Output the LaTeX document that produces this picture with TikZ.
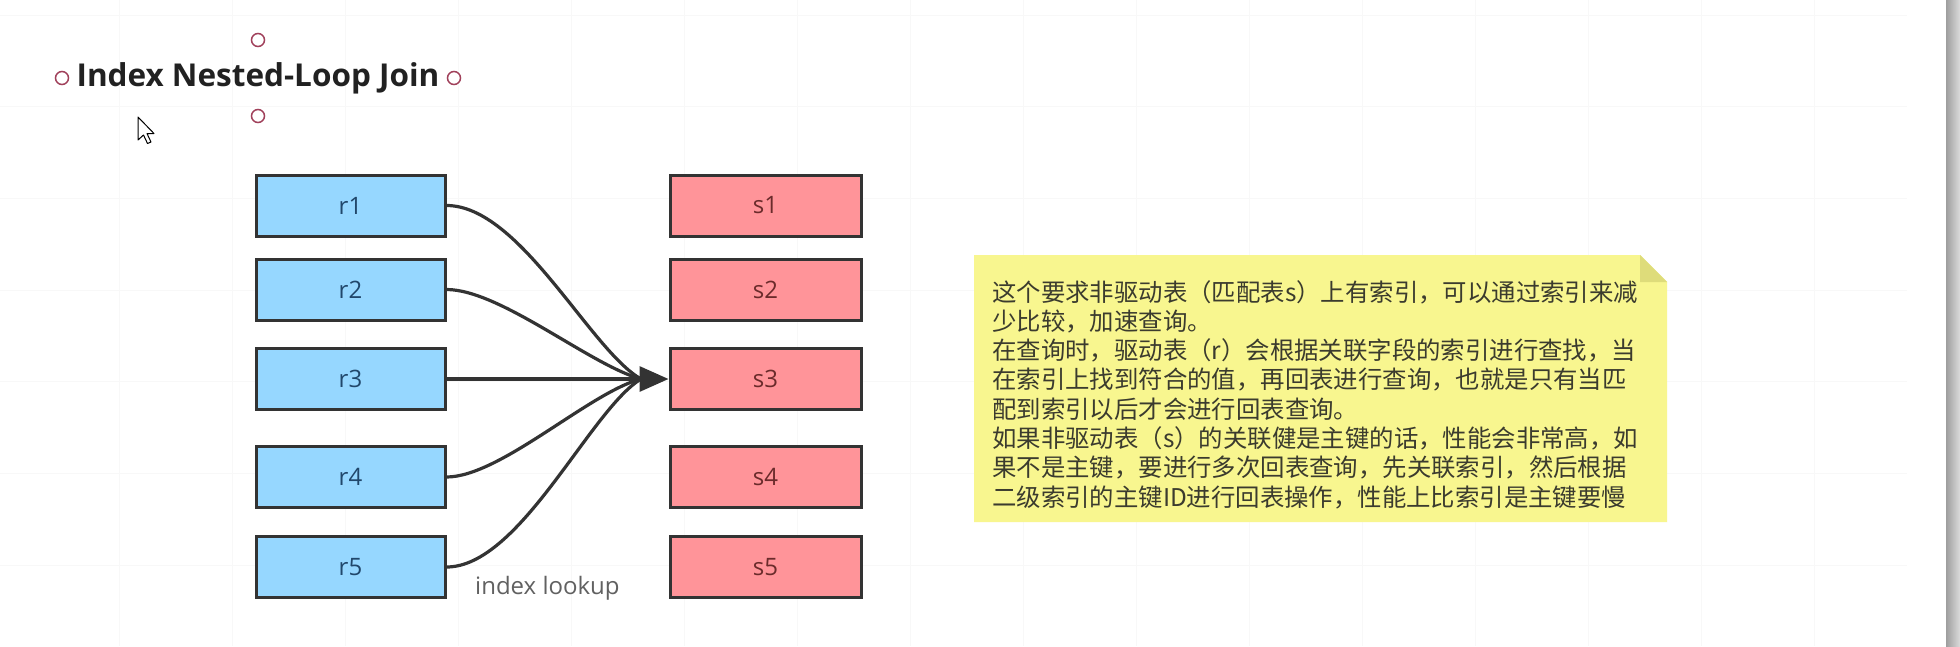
\documentclass[tikz,border=0pt]{standalone}
\usepackage{fontspec}
\setmainfont{Open Sans}
\newfontfamily\cjk{Noto Sans CJK SC}
\usetikzlibrary{arrows.meta}
\definecolor{rfill}{HTML}{96D7FF}
\definecolor{sfill}{HTML}{FF9499}
\definecolor{rtext}{HTML}{21476B}
\definecolor{stext}{HTML}{6B2B2B}
\definecolor{edge}{HTML}{333333}
\definecolor{gridc}{HTML}{F8F8F8}
\definecolor{notefill}{HTML}{F8F68F}
\definecolor{notefold}{HTML}{DEDC7A}
\definecolor{notetext}{HTML}{3B3B2E}
\definecolor{handle}{HTML}{A0405A}
\tikzset{
  rbox/.style={draw=edge, line width=3pt, fill=rfill, minimum width=189pt, minimum height=61pt, inner sep=0pt, text=rtext, font=\fontsize{24}{28}\selectfont},
  sbox/.style={draw=edge, line width=3pt, fill=sfill, minimum width=191pt, minimum height=61pt, inner sep=0pt, text=stext, font=\fontsize{24}{28}\selectfont},
  link/.style={draw=edge, line width=3.2pt},
  hdl/.style={circle, draw=handle, line width=1.5pt, fill=white, minimum size=13pt, inner sep=0pt},
  noteline/.style={anchor=base west, inner sep=0pt, text=notetext, font=\cjk\fontsize{24.4}{29}\selectfont}
}
\begin{document}
\begin{tikzpicture}[x=1pt, y=-1pt]
\useasboundingbox (0,0) rectangle (1960,646);
\fill[white] (0,0) rectangle (1960,646);
% grid
\foreach \gx in {119,232,...,1907} \draw[gridc, line width=0.8pt] (\gx,0) -- (\gx,646);
\foreach \gy in {15,106.7,...,646} \draw[gridc, line width=0.8pt] (0,\gy) -- (1907,\gy);
% scrollbar
\shade[left color=black!38, right color=black!14] (1946,0) rectangle (1960,646);
% title with selection handles
\node[font=\bfseries\fontsize{31.5}{36}\selectfont, text=black!87, inner sep=0pt] (title) at (258,78) {Index Nested-Loop Join};
\node[hdl] (hl) at (62,78) {};
\node[hdl] (hr) at (454,78) {};
\node[hdl] (ht) at (258,40) {};
\node[hdl] (hb) at (258,116) {};
% mouse cursor
\draw[black, fill=white, line width=1pt, line join=round] (138,117) -- (138,140) -- (143.5,135) -- (147.5,143.5) -- (151,142) -- (147,133.5) -- (154,133.5) -- cycle;
% r boxes
\node[rbox] (r1) at (350.5,205.5) {r1};
\node[rbox] (r2) at (350.5,289.5) {r2};
\node[rbox] (r3) at (350.5,379) {r3};
\node[rbox] (r4) at (350.5,477) {r4};
\node[rbox] (r5) at (350.5,567) {r5};
% s boxes
\node[sbox] (s1) at (765.5,205.5) {s1};
\node[sbox] (s2) at (765.5,289.5) {s2};
\node[sbox] (s3) at (765.5,379) {s3};
\node[sbox] (s4) at (765.5,477) {s4};
\node[sbox] (s5) at (765.5,567) {s5};
% connectors
\coordinate (hub) at (641,379);
\draw[link] (r1.east) .. controls (520,205.5) and (590,350) .. (hub);
\draw[link] (r2.east) .. controls (500,289.5) and (590,365) .. (hub);
\draw[link] (r4.east) .. controls (500,477) and (590,392) .. (hub);
\draw[link] (r5.east) .. controls (520,567) and (590,410) .. (hub);
\draw[link, -{Triangle[length=29pt, width=25pt]}] (r3.east) -- (s3.west);
\node[anchor=base west, inner sep=0pt, text=black!62, font=\fontsize{24}{28}\selectfont] (lookup) at (475,594) {index lookup};
% note
\fill[notefill] (974,255) -- (1640,255) -- (1667,282) -- (1667,522) -- (974,522) -- cycle;
\fill[notefold] (1640,255) -- (1640,282) -- (1667,282) -- cycle;
\node[noteline] (n1) at (992,301) {这个要求非驱动表（匹配表s）上有索引，可以通过索引来减};
\node[noteline] (n2) at (992,330.3) {少比较，加速查询。};
\node[noteline] (n3) at (992,359.6) {在查询时，驱动表（r）会根据关联字段的索引进行查找，当};
\node[noteline] (n4) at (992,388.9) {在索引上找到符合的值，再回表进行查询，也就是只有当匹};
\node[noteline] (n5) at (992,418.2) {配到索引以后才会进行回表查询。};
\node[noteline] (n6) at (992,447.5) {如果非驱动表（s）的关联健是主键的话，性能会非常高，如};
\node[noteline] (n7) at (992,476.8) {果不是主键，要进行多次回表查询，先关联索引，然后根据};
\node[noteline] (n8) at (992,506.1) {二级索引的主键ID进行回表操作，性能上比索引是主键要慢};
\end{tikzpicture}
\end{document}
